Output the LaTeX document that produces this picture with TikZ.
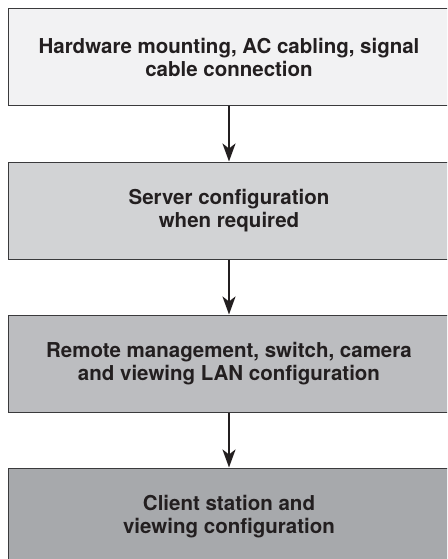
\documentclass[tikz,border=0pt]{standalone}
\usepackage{fontspec}
\setmainfont{TeX Gyre Heros}
\usetikzlibrary{positioning,arrows.meta}

\definecolor{stepA}{HTML}{F2F2F3}
\definecolor{stepB}{HTML}{D2D3D5}
\definecolor{stepC}{HTML}{BCBDC0}
\definecolor{stepD}{HTML}{A7A9AC}
\definecolor{edgegray}{HTML}{3A3A3C}
\definecolor{inkdark}{HTML}{231F20}

\begin{document}
\begin{tikzpicture}[x=1pt,y=1pt]

    % --- Styles ---
    \tikzset{
        stepbox/.style={draw=edgegray, line width=1pt, minimum width=442pt, minimum height=97pt, inner sep=0pt,
                        font=\fontsize{20.5}{23.5}\selectfont\bfseries, text=inkdark, align=center},
        flow/.style={-{Stealth[length=18pt,width=13pt,inset=5pt]}, line width=2.5pt, draw=inkdark}
    }

    % Bildausschnitt (Kaesten laufen rechts und unten aus dem Bild)
    \useasboundingbox (0,0) rectangle (447,-559);
    \clip (0,0) rectangle (447,-559);

    % --- 1. Kaesten ---
    \node[stepbox, fill=stepA] (mount) at (229,-57.5) {Hardware mounting, AC cabling, signal\\cable connection};
    \node[stepbox, fill=stepB, below=55pt of mount] (server) {Server configuration\\when required};
    \node[stepbox, fill=stepC, below=55pt of server] (lan) {Remote management, switch, camera\\and viewing LAN configuration};
    \node[stepbox, fill=stepD, below=55pt of lan] (client) {Client station and\\viewing configuration};

    % --- 2. Pfeile ---
    \draw[flow] (mount) -- (server);
    \draw[flow] (server) -- (lan);
    \draw[flow] (lan) -- (client);

\end{tikzpicture}
\end{document}
